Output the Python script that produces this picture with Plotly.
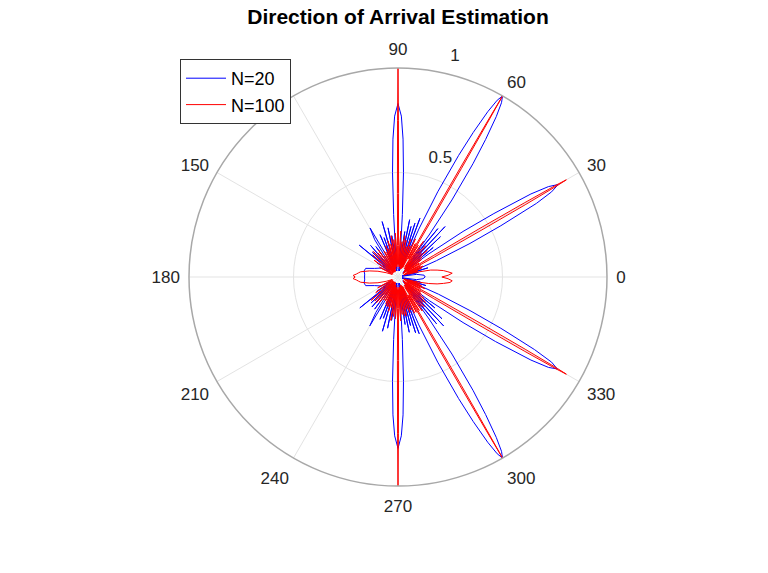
import plotly.graph_objects as go

# ---- N=20 (blue), upper half 0..180 deg ----
blue_theta_up = [0, 4, 8, 11, 13, 15, 17, 19.5,
                 21, 23, 25, 26.5, 28, 29, 30, 31, 32, 33.5, 35, 37, 38.5,
                 40, 41.5, 43.5, 45, 47, 48.5, 50.5, 52,
                 53.5, 55, 56.5, 57.5, 58.5, 59.3, 60, 60.7, 61.5, 62.5, 63.5, 65, 66.5,
                 68, 69.5, 71, 72.5, 74, 75.5, 77, 78.5, 80, 81.5, 83,
                 84.5, 86, 87, 87.9, 88.8, 90, 91.2, 92.1, 93, 94, 95.5,
                 97, 98.5, 100, 101.5, 103, 104.5, 106, 107.5, 109.5, 111, 113, 115,
                 117, 119.7, 122, 123.5, 126, 128, 131, 133, 136, 138, 140.6, 143,
                 146, 149, 152, 155, 160, 165, 170, 175, 180]
blue_r_up = [0.13, 0.125, 0.09, 0.02, 0.10, 0.02, 0.15, 0.04,
             0.08, 0.2, 0.38, 0.55, 0.75, 0.84, 0.885, 0.84, 0.75, 0.55, 0.38, 0.18, 0.04,
             0.22, 0.03, 0.28, 0.04, 0.33, 0.05, 0.30, 0.10,
             0.25, 0.45, 0.65, 0.78, 0.90, 0.97, 1.0, 0.97, 0.90, 0.78, 0.65, 0.45, 0.25,
             0.05, 0.30, 0.05, 0.27, 0.04, 0.25, 0.03, 0.28, 0.04, 0.22, 0.03,
             0.12, 0.30, 0.50, 0.66, 0.77, 0.83, 0.77, 0.66, 0.50, 0.30, 0.12,
             0.04, 0.20, 0.03, 0.24, 0.03, 0.05, 0.276, 0.06, 0.20, 0.04, 0.22, 0.04,
             0.08, 0.27, 0.21, 0.05, 0.18, 0.04, 0.20, 0.05, 0.17, 0.05, 0.24, 0.05,
             0.12, 0.04, 0.09, 0.10, 0.12, 0.16, 0.165, 0.16, 0.16]

# ---- N=20 (blue), lower half 0..-180 deg ----
blue_theta_dn = [0, -4, -8, -11, -13, -15, -17, -19.5,
                 -21, -23, -25, -26.5, -28, -29, -30, -31, -32, -33.5, -35, -37, -38.5,
                 -40, -41.5, -43.5, -45, -47, -48.5, -50.5, -52,
                 -53.5, -55, -56.5, -57.5, -58.5, -59.3, -60, -60.7, -61.5, -62.5, -63.5, -65, -66.5,
                 -68, -69.5, -71, -72.5, -74, -75.5, -77, -78.5, -80, -81.5, -83,
                 -84.5, -86, -87, -87.9, -88.8, -90, -91.2, -92.1, -93, -94, -95.5,
                 -97, -98.5, -100, -101.5, -103, -104.5, -106, -107.5, -109.5, -111, -113, -115,
                 -117, -120, -122, -123.5, -126, -128, -131, -133, -136, -138, -141, -143,
                 -146, -149, -152, -155, -160, -165, -170, -175, -180]
blue_r_dn = [0.13, 0.12, 0.09, 0.02, 0.11, 0.02, 0.14, 0.04,
             0.08, 0.21, 0.38, 0.55, 0.74, 0.84, 0.88, 0.84, 0.75, 0.56, 0.38, 0.19, 0.04,
             0.23, 0.03, 0.29, 0.04, 0.32, 0.05, 0.29, 0.10,
             0.25, 0.45, 0.65, 0.78, 0.90, 0.97, 1.0, 0.97, 0.90, 0.78, 0.65, 0.45, 0.25,
             0.05, 0.29, 0.05, 0.28, 0.04, 0.24, 0.03, 0.27, 0.04, 0.23, 0.03,
             0.12, 0.30, 0.50, 0.66, 0.76, 0.82, 0.76, 0.66, 0.50, 0.30, 0.12,
             0.04, 0.21, 0.03, 0.25, 0.03, 0.05, 0.27, 0.06, 0.21, 0.04, 0.22, 0.04,
             0.08, 0.27, 0.20, 0.05, 0.19, 0.04, 0.19, 0.05, 0.18, 0.05, 0.235, 0.05,
             0.12, 0.04, 0.09, 0.10, 0.12, 0.16, 0.165, 0.16, 0.16]

# ---- N=100 (red), upper half 0..180 deg ----
red_theta_up = [0, 2, 4, 6, 8, 10, 12, 14, 16,
                17.5, 19, 20.5, 22, 23.5, 25, 26.5,
                28, 28.8, 29.3, 29.6, 29.85, 30, 30.15, 30.4, 30.7, 31.2, 32,
                33.5, 35, 36.5, 38, 39.5, 41, 42.5, 44, 45.5, 47, 48.5, 50, 51.5, 53,
                54.5, 56, 57.5, 58.8,
                59.4, 59.7, 59.88, 60, 60.12, 60.3, 60.6, 61.2,
                62.5, 64, 65.5, 67, 68.5, 70, 71.5, 73, 74.5, 76, 77.5, 79, 80.5, 82,
                83.5, 85, 86.5, 88, 89.3,
                89.6, 89.85, 90, 90.15, 90.4, 90.7,
                92, 93.5, 95, 96.5, 98, 99.5, 101, 102.5, 104, 105.5, 107, 108.5, 110,
                111.5, 113, 114.5, 116, 118, 120, 122, 124, 126, 128, 130, 132, 134,
                136, 139, 142, 145, 148, 152, 156, 160, 164, 168, 172, 174, 176, 178, 180]
red_r_up = [0.21, 0.24, 0.26, 0.24, 0.22, 0.19, 0.16, 0.10, 0.05,
            0.10, 0.03, 0.12, 0.03, 0.13, 0.04, 0.12,
            0.05, 0.20, 0.45, 0.70, 0.88, 0.93, 0.88, 0.70, 0.45, 0.20, 0.05,
            0.12, 0.03, 0.14, 0.03, 0.15, 0.04, 0.19, 0.04, 0.16, 0.05, 0.20, 0.05, 0.17, 0.05,
            0.21, 0.06, 0.18, 0.10,
            0.30, 0.60, 0.85, 1.0, 0.85, 0.60, 0.30, 0.10,
            0.18, 0.05, 0.20, 0.05, 0.16, 0.04, 0.19, 0.05, 0.15, 0.04, 0.18, 0.05, 0.20, 0.05,
            0.17, 0.05, 0.22, 0.06, 0.15,
            0.40, 0.75, 1.0, 0.75, 0.40, 0.15,
            0.06, 0.21, 0.05, 0.18, 0.05, 0.20, 0.05, 0.16, 0.04, 0.18, 0.04, 0.14, 0.04,
            0.16, 0.03, 0.13, 0.03, 0.14, 0.03, 0.12, 0.03, 0.16, 0.03, 0.15, 0.03, 0.17,
            0.03, 0.16, 0.03, 0.14, 0.03, 0.10, 0.03, 0.06, 0.10, 0.14, 0.18, 0.19, 0.20, 0.215, 0.205]

# ---- N=100 (red), lower half 0..-180 deg ----
red_theta_dn = [0, -2, -4, -6, -8, -10, -12, -14, -16,
                -17.5, -19, -20.5, -22, -23.5, -25, -26.5,
                -28, -28.8, -29.3, -29.6, -29.85, -30, -30.15, -30.4, -30.7, -31.2, -32,
                -33.5, -35, -36.5, -38, -39.5, -41, -42.5, -44, -45.5, -47, -48.5, -50, -51.5, -53,
                -54.5, -56, -57.5, -58.8,
                -59.4, -59.7, -59.88, -60, -60.12, -60.3, -60.6, -61.2,
                -62.5, -64, -65.5, -67, -68.5, -70, -71.5, -73, -74.5, -76, -77.5, -79, -80.5, -82,
                -83.5, -85, -86.5, -88, -89.3,
                -89.6, -89.85, -90, -90.15, -90.4, -90.7,
                -92, -93.5, -95, -96.5, -98, -99.5, -101, -102.5, -104, -105.5, -107, -108.5, -110,
                -111.5, -113, -114.5, -116, -118, -120, -122, -124, -126, -128, -130, -132, -134,
                -136, -139, -142, -145, -148, -152, -156, -160, -164, -168, -172, -174, -176, -178, -180]
red_r_dn = [0.21, 0.24, 0.26, 0.25, 0.22, 0.19, 0.15, 0.10, 0.05,
            0.11, 0.03, 0.12, 0.03, 0.14, 0.04, 0.12,
            0.05, 0.20, 0.45, 0.70, 0.88, 0.93, 0.88, 0.70, 0.45, 0.20, 0.05,
            0.13, 0.03, 0.14, 0.03, 0.16, 0.04, 0.18, 0.04, 0.17, 0.05, 0.19, 0.05, 0.18, 0.05,
            0.20, 0.06, 0.19, 0.10,
            0.30, 0.60, 0.85, 1.0, 0.85, 0.60, 0.30, 0.10,
            0.19, 0.05, 0.19, 0.05, 0.17, 0.04, 0.18, 0.05, 0.16, 0.04, 0.19, 0.05, 0.19, 0.05,
            0.18, 0.05, 0.21, 0.06, 0.15,
            0.40, 0.75, 1.0, 0.75, 0.40, 0.15,
            0.06, 0.20, 0.05, 0.19, 0.05, 0.21, 0.05, 0.15, 0.04, 0.17, 0.04, 0.15, 0.04,
            0.15, 0.03, 0.14, 0.03, 0.13, 0.03, 0.13, 0.03, 0.15, 0.03, 0.16, 0.03, 0.16,
            0.03, 0.17, 0.03, 0.13, 0.03, 0.11, 0.03, 0.06, 0.10, 0.14, 0.18, 0.19, 0.20, 0.215, 0.205]

angle_ticks = [0, 30, 60, 90, 120, 150, 180, 210, 240, 270, 300, 330]
angle_labels = [str(a) for a in angle_ticks]
radial_ticks = [0.5, 1]
radial_labels = ["0.5", "1"]
series_names = ["N=20", "N=100"]

fig = go.Figure()
fig.add_trace(go.Scatterpolar(
    theta=blue_theta_dn[::-1] + blue_theta_up, r=blue_r_dn[::-1] + blue_r_up,
    mode="lines", name=series_names[0], line=dict(color="#0000ff", width=1)))
fig.add_trace(go.Scatterpolar(
    theta=red_theta_dn[::-1] + red_theta_up, r=red_r_dn[::-1] + red_r_up,
    mode="lines", name=series_names[1], line=dict(color="#ff0000", width=1)))

fig.update_layout(
    width=768, height=573,
    margin=dict(l=0, r=0, t=0, b=0),
    paper_bgcolor="white",
    font=dict(family="Liberation Sans, Arial, sans-serif", size=17, color="#262626"),
    title=dict(text="<b>Direction of Arrival Estimation</b>", x=398/768, xanchor="center",
               y=1 - 17/573, yanchor="middle", font=dict(size=21, color="black")),
    showlegend=True,
    legend=dict(x=180/768, y=1 - 59/573, xanchor="left", yanchor="top",
                bgcolor="white", bordercolor="#333333", borderwidth=1,
                itemwidth=40,
                font=dict(size=18, color="black"), tracegroupgap=0),
    polar=dict(
        domain=dict(x=[(398 - 209) / 768, (398 + 209) / 768],
                    y=[(296 - 209) / 573, (296 + 209) / 573]),
        bgcolor="white",
        angularaxis=dict(tickmode="array", tickvals=angle_ticks, ticktext=angle_labels,
                         direction="counterclockwise", rotation=0,
                         showline=True, linecolor="#a8a8a8", linewidth=1.5,
                         showgrid=True, gridcolor="#e3e3e3", gridwidth=1,
                         ticks="outside", ticklen=5, tickcolor="rgba(0,0,0,0)",
                         tickfont=dict(size=17, color="#262626")),
        radialaxis=dict(range=[0, 1], tickmode="array", tickvals=radial_ticks,
                        ticktext=[t + "<br> <br> " for t in radial_labels],
                        angle=78, tickangle=78, showline=False,
                        showgrid=True, gridcolor="#e3e3e3", gridwidth=1,
                        ticks="", tickfont=dict(size=17, color="#262626")),
    ),
)

fig.write_html("out.html")
